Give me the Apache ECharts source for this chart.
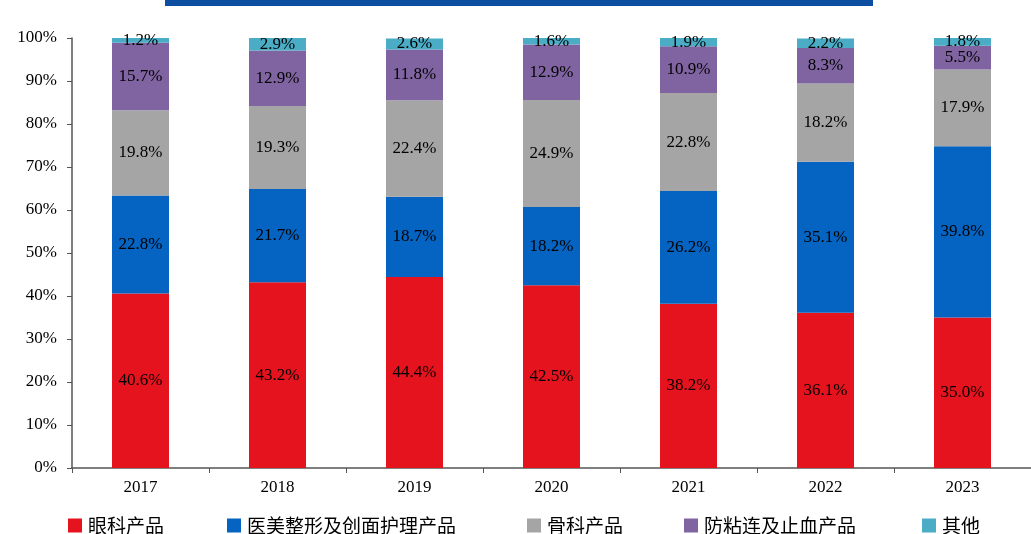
<!DOCTYPE html>
<html><head><meta charset="utf-8">
<script src="https://cdn.jsdelivr.net/npm/echarts@6/dist/echarts.min.js"></script>
<style>html,body{margin:0;padding:0;background:#fff}#c{width:1031px;height:534px}</style>
</head><body><div id="c"></div>
<script>
const years = ['2017','2018','2019','2020','2021','2022','2023'];
const seriesNames = ['眼科产品','医美整形及创面护理产品','骨科产品','防粘连及止血产品','其他'];
const eye = [40.6,43.2,44.4,42.5,38.2,36.1,35.0];
const aesthetic = [22.8,21.7,18.7,18.2,26.2,35.1,39.8];
const ortho = [19.8,19.3,22.4,24.9,22.8,18.2,17.9];
const antiAdhesion = [15.7,12.9,11.8,12.9,10.9,8.3,5.5];
const other = [1.2,2.9,2.6,1.6,1.9,2.2,1.8];
const yTicks = [0,10,20,30,40,50,60,70,80,90,100];

const colors = ['#e5131d','#0563c1','#a5a5a5','#8064a2','#4bacc6'];
const dataSets = [eye, aesthetic, ortho, antiAdhesion, other];
const serif = '"Liberation Serif","DejaVu Serif",serif';
const chart = echarts.init(document.getElementById('c'));
const legendLefts = [68, 227, 527, 684, 922];
chart.setOption({
  animation:false,
  color: colors,
  graphic:[{type:'rect',shape:{x:165,y:0,width:708,height:6},style:{fill:'#0c4fa0'}}],
  grid:{left:72,right:0,top:38,bottom:66},
  legend: seriesNames.map((n,i)=>({
    data:[n], left:legendLefts[i], top:516, padding:0, icon:'rect', itemWidth:14, itemHeight:14, itemGap:0,
    textStyle:{fontSize:19,color:'#000',padding:[0,0,0,1],fontFamily:'"Noto Sans CJK SC",sans-serif'}
  })),
  xAxis:{type:'category',data:years,
    axisLine:{lineStyle:{color:'#555',width:1.5}},
    axisTick:{show:true,length:5,lineStyle:{color:'#555'}},
    axisLabel:{color:'#000',fontSize:17,fontFamily:serif,margin:11}},
  yAxis:{type:'value',min:0,max:100,interval:10,
    axisLine:{show:true,lineStyle:{color:'#555',width:1.5}},
    axisTick:{show:true,inside:false,length:5,lineStyle:{color:'#555'}},
    splitLine:{show:false},
    axisLabel:{color:'#000',fontSize:17,fontFamily:serif,margin:15,formatter:v=>yTicks.includes(v)?v+'%':''}},
  series: dataSets.map((d,i)=>({
    name:seriesNames[i], type:'bar', stack:'t', data:d, barWidth:57,
    label:{show:true,position:'inside',color:'#000',fontSize:17,fontFamily:serif,
      formatter:p=>p.value.toFixed(1)+'%'}
  }))
});
</script></body></html>
